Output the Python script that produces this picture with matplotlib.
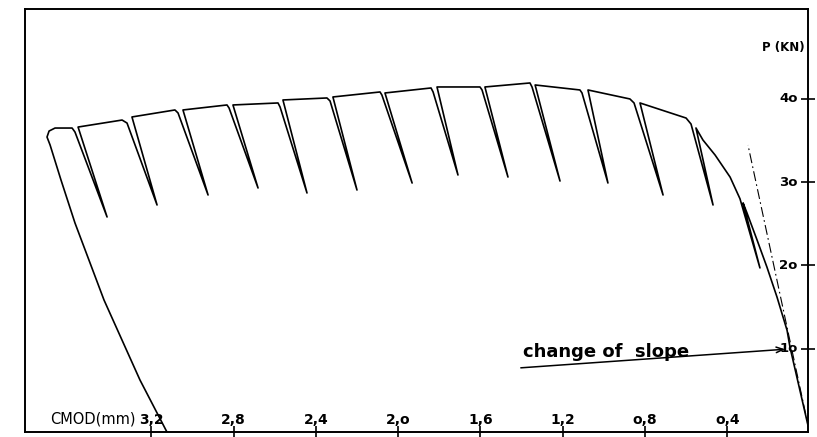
import matplotlib
matplotlib.use('Agg')
import matplotlib.pyplot as plt

# ---------------- data (CMOD in mm, load P in kN) ----------------
# initial loading branch, origin -> first unloading
load_cmod = [0.0, 0.095, 0.109, 0.158, 0.207, 0.255, 0.304]
load_p = [0.0, 10.2, 12.2, 16.2, 19.8, 23.05, 26.3]

# unloading / reloading cycles in test order (right to left)
unl_cmod = [0.323, 0.552, 0.824, 1.077, 1.334, 1.578, 1.811, 2.064, 2.317, 2.560, 2.803, 3.046, 3.294, 3.556]
unl_p = [27.5, 36.5, 39.5, 41.06, 41.66, 41.42, 41.42, 40.70, 40.22, 39.86, 39.26, 38.66, 37.82, 36.61]
tip_cmod = [0.241, 0.469, 0.712, 0.980, 1.213, 1.466, 1.709, 1.932, 2.200, 2.443, 2.681, 2.924, 3.172, 3.415]
tip_p = [19.7, 27.25, 28.45, 29.89, 30.13, 30.61, 30.85, 29.89, 29.05, 28.69, 29.29, 28.45, 27.25, 25.81]
rel_cmod = [0.338, 0.576, 0.853, 1.106, 1.349, 1.592, 1.830, 2.079, 2.331, 2.574, 2.822, 3.070, 3.318, 3.571]
rel_p = [28.0, 36.97, 39.50, 40.70, 41.42, 41.06, 40.82, 40.46, 39.74, 39.02, 38.90, 38.30, 37.09, 36.01]
crest_cmod = [0.338, 0.600, 0.873, 1.116, 1.359, 1.602, 1.840, 2.088, 2.346, 2.584, 2.832, 3.085, 3.342, 3.585]
crest_p = [28.0, 37.69, 39.98, 41.06, 41.90, 41.42, 41.30, 40.82, 40.10, 39.50, 39.26, 38.66, 37.45, 36.49]

# pre-peak envelope between the first and second cycle
pre_cmod = [0.386, 0.459, 0.518]
pre_p = [30.6, 33.25, 35.05]

# final unloading down to zero load
fin_cmod = [3.668, 3.697, 3.707, 3.692, 3.639, 3.571, 3.430, 3.255, 3.124]
fin_p = [36.49, 36.13, 35.41, 34.45, 30.25, 25.09, 15.85, 6.24, 0.0]

# initial tangent (dash-dot)
tan_cmod = [0.0, 0.299]
tan_p = [0.0, 34.45]

# annotation
arrow_from = (1.417, 7.68)
arrow_to = (0.105, 9.96)
note_text = "change of  slope"

# ticks
x_ticks = [3.2, 2.8, 2.4, 2.0, 1.6, 1.2, 0.8, 0.4]
x_labels = ['3,2', '2,8', '2,4', '2,o', '1,6', '1,2', 'o,8', 'o,4']
y_ticks = [10, 20, 30, 40]
y_labels = ['1o', '2o', '3o', '4o']

# ---------------- figure ----------------
plt.rcParams['font.family'] = ['DejaVu Sans']
fig = plt.figure(figsize=(8.17, 4.37), dpi=100)
ax = fig.add_axes([25 / 817, 5 / 437, 783 / 817, 423 / 437])

# build the full load path
xs = list(load_cmod)
ys = list(load_p)
for i in range(len(unl_cmod)):
    xs += [unl_cmod[i], tip_cmod[i], rel_cmod[i], crest_cmod[i]]
    ys += [unl_p[i], tip_p[i], rel_p[i], crest_p[i]]
    if i == 0:
        xs += pre_cmod
        ys += pre_p
xs += fin_cmod
ys += fin_p

ax.plot(xs, ys, color='black', lw=1.2, solid_joinstyle='round')
ax.plot(tan_cmod, tan_p, color='black', lw=0.8, linestyle=(0, (9, 3, 1.5, 3)))

ax.annotate('', xy=arrow_to, xytext=arrow_from,
            arrowprops=dict(arrowstyle='->,head_length=0.5,head_width=0.2', lw=1.1, color='black'))
ax.text(1.395, 8.5, note_text, fontsize=13, fontweight='bold', ha='left', va='bottom')

ax.set_xlim(3.814, 0.0073)
ax.set_ylim(0, 50.78)

for s in ax.spines.values():
    s.set_linewidth(1.4)

ax.set_xticks(x_ticks)
ax.set_xticklabels([])
ax.tick_params(axis='x', direction='inout', length=8, width=1.2)
for t, lab in zip(x_ticks, x_labels):
    ax.text(t, 0.012, lab, transform=ax.get_xaxis_transform(), ha='center', va='bottom',
            fontsize=10, fontweight='bold')
ax.text(3.275, 0.012, 'CMOD(mm)', transform=ax.get_xaxis_transform(), ha='right', va='bottom',
        fontsize=10.5)

ax.yaxis.tick_right()
ax.set_yticks(y_ticks)
ax.set_yticklabels([])
ax.tick_params(axis='y', direction='inout', length=10, width=1.2)
for t, lab in zip(y_ticks, y_labels):
    ax.text(0.987, t, lab, transform=ax.get_yaxis_transform(), ha='right', va='center',
            fontsize=9.5, fontweight='bold')
ax.text(0.996, 46.2, 'P (KN)', transform=ax.get_yaxis_transform(), ha='right', va='center',
        fontsize=8.5, fontweight='bold')

fig.savefig('out.png', dpi=100)
